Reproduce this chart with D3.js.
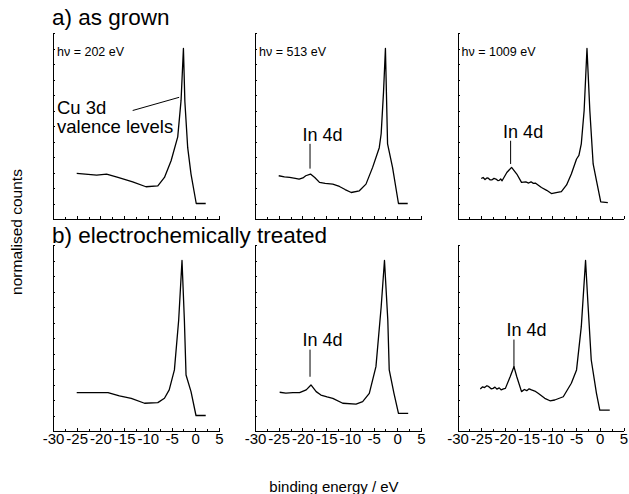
<!DOCTYPE html>
<html>
<head>
<meta charset="utf-8">
<script src="https://cdn.jsdelivr.net/npm/d3@7"></script>
<style>
  body { margin: 0; background: #fff; }
  svg { display: block; font-family: "Liberation Sans", Arial, sans-serif; }
  .axis path, .axis line { stroke: #000; stroke-width: 1; shape-rendering: crispEdges; }
  .axis text { fill: #000; font-size: 15px; font-family: "Liberation Sans", Arial, sans-serif; }
  .spec { fill: none; stroke: #000; stroke-width: 1.3; stroke-linejoin: round; }
</style>
</head>
<body>
<div id="chart"></div>
<script>
// binding energy (eV) and normalised counts
const beGrown202 = [-25, -20.8, -18.7, -16.3, -13.2, -10.4, -7.9, -6.5, -5.1, -3.7, -3.0, -2.5, -2.2, -1.6, -0.9, 0.2, 2.2];
const cnGrown202 = [0.194, 0.183, 0.19, 0.168, 0.14, 0.108, 0.114, 0.168, 0.276, 0.43, 0.665, 1.0, 0.66, 0.36, 0.19, 0, 0];

const beGrown513 = [-25, -23.8, -22.7, -21.5, -20.7, -19.9, -19.3, -18.3, -17.4, -16.4, -15.2, -13.6, -12.2, -11, -9.7, -8, -6.6, -5.2, -3.8, -3.4, -2.9, -2.5, -2.05, -1.0, 0.25, 2.2];
const cnGrown513 = [0.179, 0.172, 0.168, 0.162, 0.157, 0.165, 0.179, 0.19, 0.168, 0.136, 0.13, 0.125, 0.11, 0.09, 0.071, 0.082, 0.125, 0.233, 0.36, 0.45, 0.72, 1.0, 0.385, 0.233, 0, 0];

const beGrown1009 = [-25, -24.6, -24.2, -23.8, -23.5, -23.1, -22.7, -22.3, -21.9, -21.5, -21.2, -20.9, -20.6, -19.6, -18.6, -17.5, -16.5, -15.6, -15.0, -14.5, -14.0, -13.6, -12.3, -11.2, -10.2, -9.2, -8.1, -7, -6, -4.9, -4.4, -3.9, -3.3, -2.7, -2.1, -1.4, -0.7, 0.2, 1.7];
const cnGrown1009 = [0.161, 0.168, 0.155, 0.165, 0.163, 0.152, 0.153, 0.162, 0.158, 0.148, 0.149, 0.158, 0.147, 0.2, 0.233, 0.19, 0.136, 0.14, 0.132, 0.14, 0.13, 0.132, 0.103, 0.085, 0.064, 0.07, 0.077, 0.12, 0.19, 0.287, 0.31, 0.385, 0.6, 1.0, 0.6, 0.255, 0.147, 0.01, 0.006];

const beTreated202 = [-25, -18.4, -16, -13.5, -10.7, -7.9, -6.5, -5.5, -4.4, -3.5, -2.8, -2.3, -1.95, -0.9, 0.15, 2.2];
const cnTreated202 = [0.147, 0.147, 0.126, 0.111, 0.079, 0.083, 0.111, 0.165, 0.294, 0.616, 1.0, 0.616, 0.261, 0.154, 0, 0];

const beTreated513 = [-24.8, -23.5, -22, -20.6, -19.2, -18.2, -17.1, -16.1, -14.8, -13.6, -11.5, -8.7, -7.3, -5.9, -4.5, -3.4, -2.7, -2.0, -1.7, -0.7, 0.25, 2.3];
const cnTreated513 = [0.15, 0.145, 0.148, 0.147, 0.165, 0.197, 0.154, 0.132, 0.12, 0.111, 0.079, 0.074, 0.089, 0.143, 0.315, 0.7, 1.0, 0.616, 0.294, 0.143, 0.014, 0.014];

const beTreated1009 = [-25.2, -24.7, -24.3, -23.8, -23.4, -22.9, -22.5, -22.1, -21.7, -21.2, -20.8, -20.3, -19.9, -18.9, -18.1, -17.5, -16.5, -15.9, -15.4, -14.9, -14.4, -13.7, -13, -11.6, -10.5, -9.5, -7.7, -6, -4.9, -3.9, -3.0, -2.5, -1.8, -0.7, 0, 2.1];
const cnTreated1009 = [0.171, 0.185, 0.18, 0.192, 0.186, 0.172, 0.175, 0.183, 0.17, 0.178, 0.165, 0.172, 0.175, 0.25, 0.315, 0.25, 0.154, 0.168, 0.16, 0.172, 0.165, 0.158, 0.143, 0.111, 0.095, 0.1, 0.121, 0.208, 0.294, 0.573, 1.0, 0.724, 0.358, 0.143, 0.035, 0.035];

const photonEnergies = ["hν = 202 eV", "hν = 513 eV", "hν = 1009 eV"];
const rowTitles = ["a) as grown", "b) electrochemically treated"];
const xTicks = [-30, -25, -20, -15, -10, -5, 0, 5];
const xMinorTicks = [-27.5, -22.5, -17.5, -12.5, -7.5, -2.5, 2.5];
const yTicks = d3.range(-0.1, 1.1001, 0.1);

const spectra = [
  [beGrown202, cnGrown202], [beGrown513, cnGrown513], [beGrown1009, cnGrown1009],
  [beTreated202, cnTreated202], [beTreated513, cnTreated513], [beTreated1009, cnTreated1009]
];

// In 4d marks: panel, energy, value of label baseline, line top, line bottom
const in4dMarks = [
  { panel: 1, be: -18.4, text: 0.405, top: 0.385, bottom: 0.225 },
  { panel: 2, be: -18.8, text: 0.425, top: 0.405, bottom: 0.255 },
  { panel: 4, be: -18.4, text: 0.45, top: 0.425, bottom: 0.25 },
  { panel: 5, be: -18.1, text: 0.515, top: 0.49, bottom: 0.31 }
];

const W = 629, H = 494;
const colLeft = [53, 255, 457.5];
const rowTop = [33, 245];
const pw = 166, ph = 186;

const svg = d3.select("#chart").append("svg")
  .attr("width", W).attr("height", H);

spectra.forEach((s, i) => {
  const row = Math.floor(i / 3), col = i % 3;
  const g = svg.append("g")
    .attr("transform", `translate(${colLeft[col]},${rowTop[row]})`);

  const x = d3.scaleLinear().domain([-30, 5]).range([0, pw]);
  const y = d3.scaleLinear().domain([-0.1, 1.1]).range([ph, 0]);

  // x axis, labels only on the bottom row
  g.append("g").attr("class", "axis")
    .attr("transform", `translate(0,${ph})`)
    .call(d3.axisBottom(x).tickValues(xTicks).tickSize(-3).tickSizeOuter(0)
      .tickPadding(2)
      .tickFormat(row === 1 ? d => String(d) : () => ""));
  g.append("g").attr("class", "axis")
    .attr("transform", `translate(0,${ph})`)
    .call(d3.axisBottom(x).tickValues(xMinorTicks).tickSize(-2).tickSizeOuter(0).tickFormat(() => ""))
    .select(".domain").remove();

  g.append("g").attr("class", "axis")
    .call(d3.axisLeft(y).tickValues(yTicks).tickSize(-2).tickSizeOuter(0).tickFormat(() => ""));

  const line = d3.line().x(d => x(d)).y((d, j) => y(s[1][j]));
  g.append("path").attr("class", "spec").attr("d", line(s[0]));

  if (row === 0) {
    g.append("text")
      .attr("x", 4).attr("y", 23)
      .attr("font-size", 12.5)
      .text(photonEnergies[col]);
  }

  if (i === 0) {
    g.append("text").attr("x", 4).attr("y", y(0.58)).attr("font-size", 18.5).text("Cu 3d");
    g.append("text").attr("x", 4).attr("y", y(0.455)).attr("font-size", 18.5).text("valence levels");
    g.append("line")
      .attr("x1", x(-13.2)).attr("y1", y(0.6))
      .attr("x2", x(-3.4)).attr("y2", y(0.685))
      .attr("stroke", "#000").attr("stroke-width", 1);
  }

  in4dMarks.filter(m => m.panel === i).forEach(m => {
    g.append("text")
      .attr("x", x(m.be) - 7.5).attr("y", y(m.text))
      .attr("font-size", 18)
      .text("In 4d");
    g.append("line")
      .attr("x1", x(m.be)).attr("x2", x(m.be))
      .attr("y1", y(m.top)).attr("y2", y(m.bottom))
      .attr("stroke", "#000").attr("stroke-width", 1);
  });
});

rowTitles.forEach((t, r) => {
  svg.append("text")
    .attr("x", 52).attr("y", r === 0 ? 25 : 243)
    .attr("font-size", 22.5)
    .text(t);
});

svg.append("text")
  .attr("transform", "translate(22,232) rotate(-90)")
  .attr("text-anchor", "middle")
  .attr("font-size", 15.5)
  .text("normalised counts");

svg.append("text")
  .attr("x", 334).attr("y", 492)
  .attr("text-anchor", "middle")
  .attr("font-size", 15)
  .text("binding energy / eV");
</script>
</body>
</html>
